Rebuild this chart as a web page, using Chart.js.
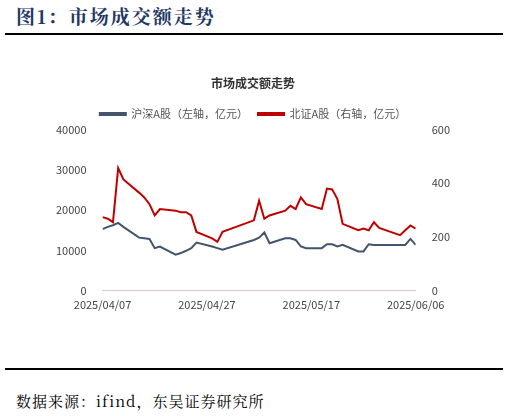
<!DOCTYPE html>
<html>
<head>
<meta charset="utf-8">
<script src="https://cdn.jsdelivr.net/npm/chart.js@4"></script>
<style>
  body { margin: 0; width: 508px; height: 416px; background: #fff; position: relative; overflow: hidden; }
  .head { position: absolute; left: 16px; top: 2px; font: bold 19px "Noto Serif CJK SC", "Noto Sans CJK SC", serif; color: #1f3864; letter-spacing: 2px; }
  .rule { position: absolute; left: 5px; right: 5px; height: 2px; background: #000; }
  .foot { position: absolute; left: 16px; top: 390px; font: 15px "Noto Serif CJK SC", "Noto Sans CJK SC", serif; color: #000; letter-spacing: 1px; }
  #wrap { position: absolute; left: 0; top: 76px; width: 508px; height: 238px; }
</style>
</head>
<body>
<div class="head">图1：市场成交额走势</div>
<div class="rule" style="top:33px"></div>
<div id="wrap"><canvas id="myChart"></canvas></div>
<div class="rule" style="top:368px"></div>
<div class="foot">数据来源：ifind，东吴证券研究所</div>
<script>
// calendar day offsets from 2025/04/07 (trading days only)
const days = [0,1,2,3,4, 7,8,9,10,11, 14,15,16,17,18, 21,22,23, 29,30,31,32, 35,36,37,38,39, 42,43,44,45,46, 49,50,51,52,53, 57,58,59,60];
const hsA = [15280,15850,16260,16830,15850, 13170,13000,12850,10570,10980, 8940,9350,9920,10570,11950, 10980,10570,10160, 12600,13170,14470,11790, 13000,13000,12600,10980,10570, 10570,11540,11540,10980,11380, 9760,9760,11540,11380,11380, 11380,11380,12850,11380];
const bzA = [274,268,255,456,414, 365,347,322,280,304, 298,292,292,280,219, 195,182,219, 262,335,268,280, 298,316,304,347,322, 304,380,377,341,249, 225,231,225,255,234, 207,225,243,231];
const xTicks = ["2025/04/07", "2025/04/27", "2025/05/17", "2025/06/06"];

const font = { family: "'Noto Sans CJK SC', sans-serif", size: 11 };

const config = {
  type: "line",
  data: {
    datasets: [
      {
        label: "沪深A股（左轴，亿元）",
        data: days.map((d, i) => ({ x: d, y: hsA[i] })),
        borderColor: "#44546a",
        backgroundColor: "#44546a",
        borderWidth: 2,
        pointRadius: 0,
        yAxisID: "y",
      },
      {
        label: "北证A股（右轴，亿元）",
        data: days.map((d, i) => ({ x: d, y: bzA[i] })),
        borderColor: "#c00000",
        backgroundColor: "#c00000",
        borderWidth: 2,
        pointRadius: 0,
        yAxisID: "y1",
      },
    ],
  },
  options: {
    responsive: true,
    maintainAspectRatio: false,
    animation: false,
    layout: { padding: { left: 48, right: 50, top: 0, bottom: 0 } },
    scales: {
      x: {
        type: "linear",
        min: 0,
        max: 60,
        grid: { display: false, drawTicks: true, tickLength: 4, color: "#e6c8c8" },
        border: { color: "#e6c8c8" },
        ticks: {
          stepSize: 20,
          color: "#444",
          font: font,
          maxRotation: 0,
          callback: (v) => xTicks[v / 20],
        },
      },
      y: {
        position: "left",
        min: 0,
        max: 40000,
        grid: { display: false },
        border: { display: false },
        ticks: { stepSize: 10000, color: "#444", font: font, padding: 8, callback: (v) => String(v) },
      },
      y1: {
        position: "right",
        min: 0,
        max: 600,
        grid: { display: false },
        border: { display: false },
        ticks: { stepSize: 200, color: "#444", font: font, padding: 8, callback: (v) => String(v) },
      },
    },
    plugins: {
      title: {
        display: true,
        text: "市场成交额走势",
        color: "#333",
        font: { family: "'Noto Sans CJK SC', sans-serif", size: 12, weight: "bold" },
        padding: { top: 0, bottom: 8 },
      },
      legend: {
        labels: { boxWidth: 26, boxHeight: 2, color: "#555", font: font, padding: 10 },
      },
    },
  },
};

new Chart(document.getElementById("myChart"), config);
</script>
</body>
</html>
